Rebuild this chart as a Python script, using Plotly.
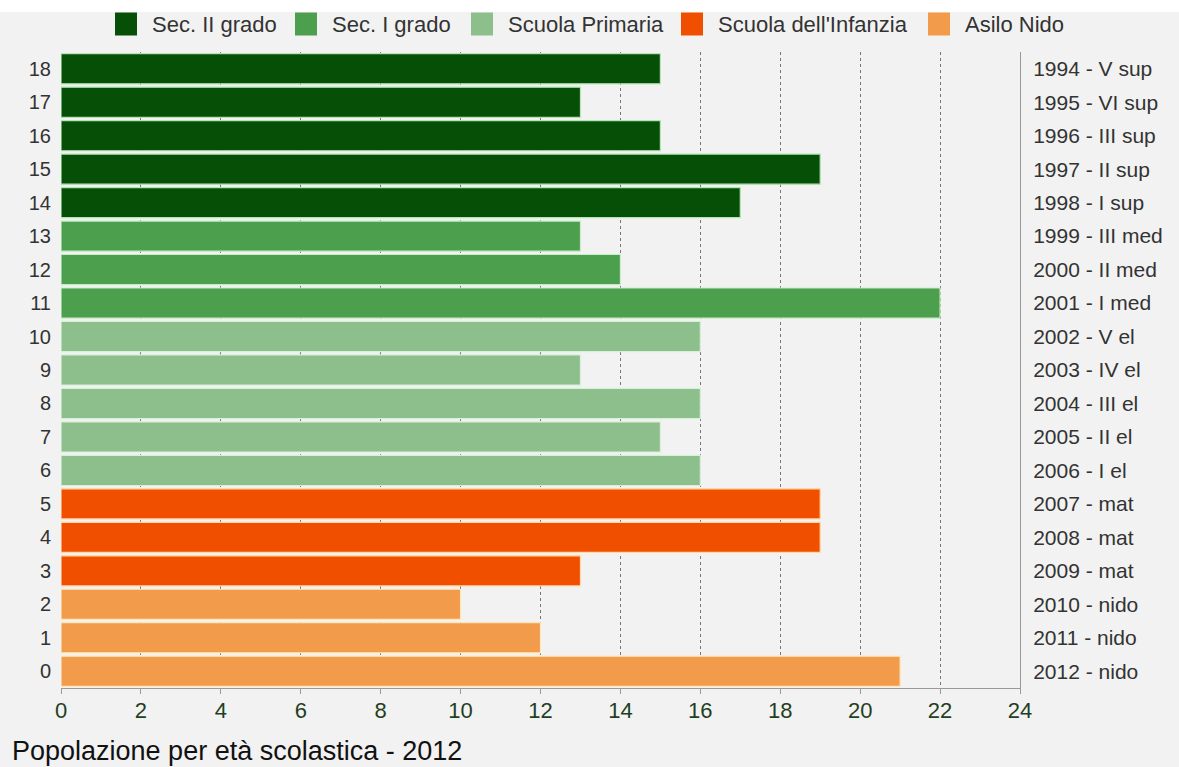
import plotly.graph_objects as go

ages = list(range(19))
values = [21, 12, 10, 13, 19, 19, 16, 15, 16, 13, 16, 22, 14, 13, 17, 19, 15, 13, 15]
right_labels = ["2012 - nido", "2011 - nido", "2010 - nido", "2009 - mat", "2008 - mat",
                "2007 - mat", "2006 - I el", "2005 - II el", "2004 - III el", "2003 - IV el",
                "2002 - V el", "2001 - I med", "2000 - II med", "1999 - III med", "1998 - I sup",
                "1997 - II sup", "1996 - III sup", "1995 - VI sup", "1994 - V sup"]
groups = ["Sec. II grado", "Sec. I grado", "Scuola Primaria", "Scuola dell'Infanzia", "Asilo Nido"]
group_ages = [[14, 15, 16, 17, 18], [11, 12, 13], [6, 7, 8, 9, 10], [3, 4, 5], [0, 1, 2]]
colors = ["#064f06", "#4c9f4c", "#8dbf8d", "#f04f00", "#f29b4b"]
edge_colors = ["#b4e6b4", "#c8ecc8", "#d8efd8", "#ffd9a8", "#ffe7b8"]
x_ticks = list(range(0, 25, 2))

# layout geometry (pixels)
W, H = 1179, 767
ML, MR, MT, MB = 61, 159, 52, 79
PW, PH = W - ML - MR, H - MT - MB
legend_px = [115, 295, 471, 681, 928]   # left edge of each legend swatch
legend_cy = 24
sw = 23

def px_x(p):
    return (p - ML) / PW

def px_y(p):
    return (H - MB - p) / PH

fig = go.Figure()
for g, ag, c, ec in zip(groups, group_ages, colors, edge_colors):
    fig.add_trace(go.Bar(
        x=[values[a] for a in ag], y=ag, orientation="h", name=g,
        marker=dict(color=c, line=dict(color=ec, width=1.2)),
        showlegend=False, hoverinfo="x+y",
    ))

fig.add_trace(go.Scatter(x=[None], y=[None], yaxis="y2", showlegend=False, hoverinfo="skip"))

shapes = [dict(
    type="rect", xref="paper", yref="paper",
    x0=px_x(0), x1=px_x(W), y0=px_y(12), y1=px_y(0),
    fillcolor="#ffffff", line=dict(width=0), layer="below",
)]
annotations = [dict(
    text="Popolazione per età scolastica - 2012",
    xref="paper", yref="paper", x=px_x(10), y=px_y(734),
    xanchor="left", yanchor="top", showarrow=False,
    font=dict(size=27, color="#111111"),
)]
for g, c, lx in zip(groups, colors, legend_px):
    shapes.append(dict(
        type="rect", xref="paper", yref="paper",
        x0=px_x(lx), x1=px_x(lx + sw - 1),
        y0=px_y(legend_cy + sw / 2), y1=px_y(legend_cy - sw / 2),
        fillcolor=c, line=dict(width=0),
    ))
    annotations.append(dict(
        text=g, xref="paper", yref="paper", x=px_x(lx + sw + 12), y=px_y(legend_cy),
        xanchor="left", yanchor="middle", showarrow=False,
        font=dict(size=22, color="#333333"),
    ))

fig.update_layout(
    width=W, height=H,
    paper_bgcolor="#f2f2f2", plot_bgcolor="#f2f2f2",
    margin=dict(l=ML, r=MR, t=MT, b=MB),
    bargap=0.1, showlegend=False,
    font=dict(family="Liberation Sans, Arial, sans-serif", size=15, color="#333333"),
    xaxis=dict(
        range=[0, 24], tickvals=x_ticks, ticktext=[str(v) for v in x_ticks],
        showgrid=True, gridcolor="#777777", griddash="dot", gridwidth=1,
        showline=True, linecolor="#999999", linewidth=1,
        ticks="outside", ticklen=5, tickcolor="#999999",
        tickfont=dict(size=22, color="#1f3f1f"), ticklabelstandoff=-2,
        zeroline=False, fixedrange=True,
    ),
    yaxis=dict(
        range=[-0.5, 18.5], tickvals=ages, ticktext=[str(a) for a in ages],
        showgrid=False, zeroline=False, showline=False,
        ticks="", ticklabelstandoff=9,
        tickfont=dict(size=20, color="#333333"),
    ),
    yaxis2=dict(
        range=[-0.5, 18.5], overlaying="y", side="right",
        tickvals=ages, ticktext=right_labels,
        showgrid=False, zeroline=False,
        showline=True, linecolor="#999999", linewidth=1,
        ticks="", ticklabelstandoff=8,
        tickfont=dict(size=21, color="#333333"),
    ),
    shapes=shapes,
    annotations=annotations,
)

fig.write_html("out.html")
